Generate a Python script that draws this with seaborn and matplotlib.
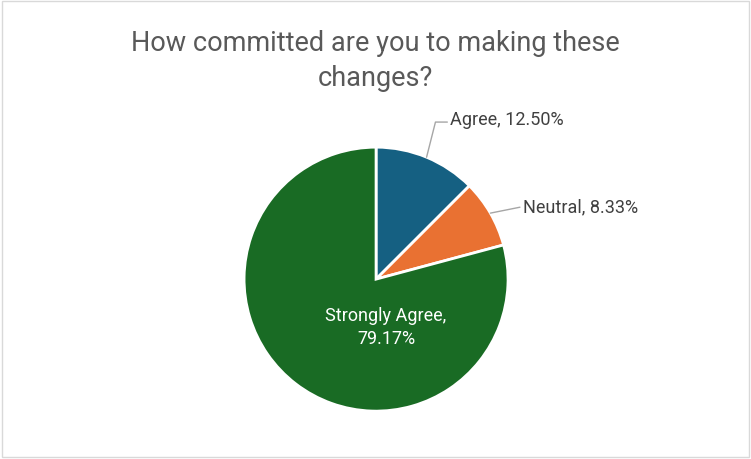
import matplotlib
matplotlib.use("Agg")
import matplotlib.pyplot as plt
import seaborn as sns
import numpy as np

categories = ["Agree", "Neutral", "Strongly Agree"]
shares = [12.50, 8.33, 79.17]
colors = ["#156082", "#E97132", "#196B24"]
title = "How committed are you to making these\nchanges?"

sns.set_theme(style="white")
plt.rcParams["font.family"] = ["Roboto", "DejaVu Sans"]

fig = plt.figure(figsize=(7.51, 4.60), dpi=100)
fig.patch.set_facecolor("white")
# thin grey frame like the chart area border
fig.patches.append(plt.Rectangle((0.003, 0.004), 0.994, 0.992, transform=fig.transFigure,
                                 fill=False, edgecolor="#D9D9D9", linewidth=1))

ax = fig.add_axes([0.325, 0.104, 0.3515, 0.574])
wedges, _ = ax.pie(shares, colors=colors, startangle=90, counterclock=False,
                   wedgeprops=dict(edgecolor="white", linewidth=2))
ax.set_xlim(-1, 1)
ax.set_ylim(-1, 1)
ax.set_aspect("equal")
ax.axis("off")

text_color = "#404040"
lab_size = 13

# Agree: leader line from wedge edge
w = wedges[0]
a = np.deg2rad((w.theta1 + w.theta2) / 2)
ex, ey = np.cos(a), np.sin(a)
ax.plot([ex, 0.45, 0.54], [ey, 1.19, 1.19], color="#A6A6A6", lw=1, clip_on=False)
ax.text(0.56, 1.21, f"{categories[0]}, {shares[0]:.2f}%", ha="left", va="center",
        fontsize=lab_size, color=text_color, clip_on=False)

# Neutral
w = wedges[1]
a = np.deg2rad((w.theta1 + w.theta2) / 2)
ex, ey = np.cos(a), np.sin(a)
ax.plot([ex, 1.09], [ey, 0.545], color="#A6A6A6", lw=1, clip_on=False)
ax.text(1.115, 0.553, f"{categories[1]}, {shares[1]:.2f}%", ha="left", va="center",
        fontsize=lab_size, color=text_color, clip_on=False)

# Strongly Agree inside
ax.text(0.075, -0.36, f"{categories[2]},\n{shares[2]:.2f}%", ha="center", va="center",
        fontsize=lab_size, color="white", linespacing=1.4)

fig.text(0.5, 0.868, title, ha="center", va="center", fontsize=19.5, color="#595959",
         linespacing=1.4)

fig.savefig("out.png", dpi=100)
plt.close(fig)
